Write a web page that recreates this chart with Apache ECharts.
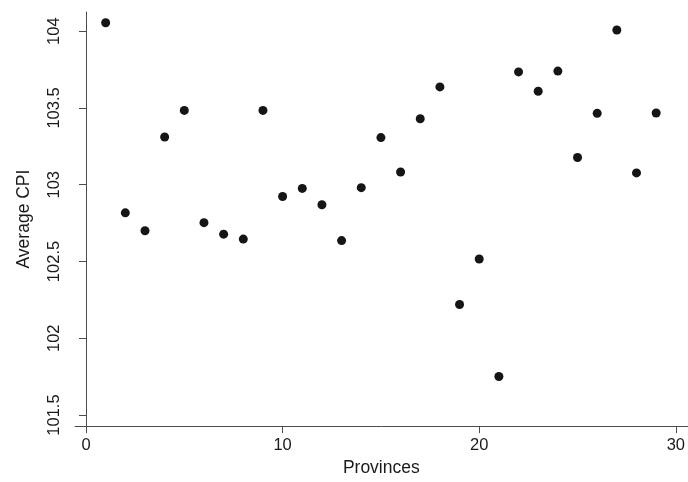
<!DOCTYPE html>
<html>
<head>
<meta charset="utf-8">
<script src="https://cdn.jsdelivr.net/npm/echarts@6/dist/echarts.min.js"></script>
<style>
  html, body { margin: 0; padding: 0; background: #fff; }
  #chart { width: 688px; height: 482px; }
</style>
</head>
<body>
<div id="chart"></div>
<script>
// province index 1..29 and its average CPI
const provinces = [1, 2, 3, 4, 5, 6, 7, 8, 9, 10, 11, 12, 13, 14, 15, 16, 17, 18, 19, 20, 21, 22, 23, 24, 25, 26, 27, 28, 29]
const avgCpi = [104.055, 102.817, 102.70, 103.311, 103.484, 102.753, 102.678, 102.646, 103.484, 102.923,
  102.976, 102.870, 102.636, 102.981, 103.307, 103.083, 103.43, 103.637, 102.220, 102.516,
  101.751, 103.735, 103.609, 103.74, 103.177, 103.465, 104.008, 103.077, 103.467]
const xTicks = [0, 10, 20, 30]
const yTicks = [101.5, 102, 102.5, 103, 103.5, 104]

const font = 'Arial, "Liberation Sans", sans-serif'
const axisColor = '#4d4d4d'
const textColor = '#1a1a1a'

const chart = echarts.init(document.getElementById('chart'))

chart.setOption({
  animation: false,
  backgroundColor: '#fff',
  grid: { left: 75, right: 0, top: 12, bottom: 48 },
  xAxis: {
    type: 'value',
    min: -0.56,
    max: 30.6,
    name: 'Provinces',
    nameLocation: 'middle',
    nameGap: 25,
    nameTextStyle: { fontFamily: font, fontSize: 17.5, color: textColor },
    axisLine: { show: true, lineStyle: { color: axisColor, width: 1 } },
    axisTick: { show: true, length: 7, lineStyle: { color: axisColor }, customValues: xTicks },
    axisLabel: { customValues: xTicks, margin: 11, fontFamily: font, fontSize: 16.5, color: textColor },
    splitLine: { show: false }
  },
  yAxis: {
    type: 'value',
    min: 101.428,
    max: 104.125,
    name: 'Average CPI',
    nameLocation: 'middle',
    nameGap: 42,
    nameTextStyle: { fontFamily: font, fontSize: 17.5, color: textColor },
    axisLine: { show: true, lineStyle: { color: axisColor, width: 1 } },
    axisTick: { show: true, length: 7, lineStyle: { color: axisColor }, customValues: yTicks },
    axisLabel: {
      customValues: yTicks,
      rotate: 90,
      margin: 12,
      fontFamily: font,
      fontSize: 16.5,
      color: textColor,
      formatter: v => String(Math.round(v * 10) / 10)
    },
    splitLine: { show: false }
  },
  series: [{
    type: 'scatter',
    data: provinces.map((p, i) => [p, avgCpi[i]]),
    symbol: 'circle',
    symbolSize: 9,
    itemStyle: { color: '#151515', opacity: 1 }
  }]
})
</script>
</body>
</html>
